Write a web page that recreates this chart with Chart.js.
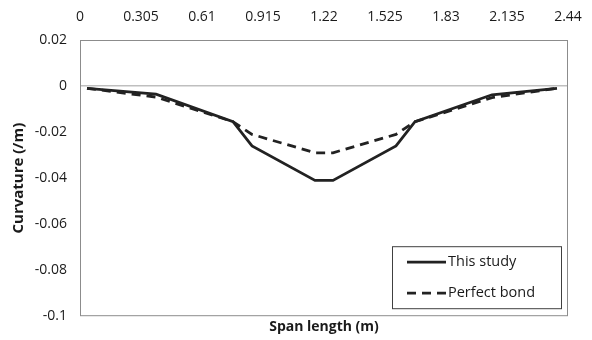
<!DOCTYPE html>
<html>
<head>
<meta charset="utf-8">
<script src="https://cdn.jsdelivr.net/npm/chart.js@4/dist/chart.umd.min.js"></script>
<style>
  html, body { margin: 0; padding: 0; background: #fff; }
  #wrap { width: 592px; height: 340px; }
</style>
</head>
<body>
<div id="wrap"><canvas id="curvatureChart"></canvas></div>
<script>
// span positions (m) and curvature (/m)
const spanX = [0.035, 0.38, 0.765, 0.86, 1.175, 1.265, 1.58, 1.675, 2.06, 2.385];
const thisStudy = [-0.001, -0.0035, -0.0155, -0.026, -0.041, -0.041, -0.026, -0.0155, -0.0038, -0.001];
const perfectBond = [-0.001, -0.0048, -0.0155, -0.021, -0.029, -0.029, -0.021, -0.0155, -0.005, -0.001];

const xTicks = [0, 0.305, 0.61, 0.915, 1.22, 1.525, 1.83, 2.135, 2.44];
const yTicks = [0.02, 0, -0.02, -0.04, -0.06, -0.08, -0.1];

const font = "'Open Sans', 'Liberation Sans', sans-serif";

function toPoints(values) {
  return spanX.map((x, i) => ({ x: x, y: values[i] }));
}

// grey box round the plot area
const plotBorder = {
  id: "plotBorder",
  afterDraw(chart) {
    const { ctx, chartArea: a } = chart;
    ctx.save();
    ctx.strokeStyle = "#8c8c8c";
    ctx.lineWidth = 1;
    ctx.strokeRect(a.left + 0.5, a.top + 0.5, a.right - a.left - 1, a.bottom - a.top - 1);
    ctx.restore();
  },
};

// boxed legend sitting in the lower right of the plot
const boxLegend = {
  id: "boxLegend",
  afterDraw(chart) {
    const { ctx, chartArea: a } = chart;
    const w = 169, h = 62;
    const x0 = a.right - 176, y0 = a.bottom - 70;
    ctx.save();
    ctx.fillStyle = "#fff";
    ctx.fillRect(x0, y0, w, h);
    ctx.strokeStyle = "#404040";
    ctx.lineWidth = 1;
    ctx.strokeRect(x0 + 0.5, y0 + 0.5, w, h);
    ctx.font = "14.5px " + font;
    ctx.textBaseline = "middle";
    chart.data.datasets.forEach((ds, i) => {
      const y = y0 + 16 + i * 31;
      ctx.strokeStyle = ds.borderColor;
      ctx.lineWidth = ds.borderWidth;
      ctx.setLineDash(ds.borderDash || []);
      ctx.beginPath();
      ctx.moveTo(x0 + 15, y);
      ctx.lineTo(x0 + 54, y);
      ctx.stroke();
      ctx.setLineDash([]);
      ctx.fillStyle = "#1a1a1a";
      ctx.fillText(ds.label, x0 + 56, y);
    });
    ctx.restore();
  },
};

new Chart(document.getElementById("curvatureChart"), {
  type: "scatter",
  data: {
    datasets: [
      {
        label: "This study",
        data: toPoints(thisStudy),
        showLine: true,
        borderColor: "#222222",
        borderWidth: 2.8,
        pointRadius: 0,
        tension: 0,
      },
      {
        label: "Perfect bond",
        data: toPoints(perfectBond),
        showLine: true,
        borderColor: "#222222",
        borderWidth: 2.8,
        borderDash: [9, 6],
        pointRadius: 0,
        tension: 0,
      },
    ],
  },
  options: {
    responsive: true,
    maintainAspectRatio: false,
    animation: false,
    layout: { padding: { top: 2, right: 24, bottom: 5, left: 4 } },
    plugins: {
      legend: { display: false },
      tooltip: { enabled: false },
    },
    scales: {
      x: {
        type: "linear",
        position: "top",
        min: 0,
        max: 2.44,
        afterBuildTicks: (axis) => {
          axis.ticks = xTicks.map((v) => ({ value: v }));
        },
        afterFit: (axis) => {
          axis.height = 38;
          axis.paddingLeft = 0;
          axis.paddingRight = 0;
        },
        ticks: {
          color: "#1a1a1a",
          font: { family: font, size: 14 },
          padding: 15,
          maxRotation: 0,
          autoSkip: false,
          callback: (v) => String(v),
        },
        grid: { display: false, drawTicks: false },
        border: { display: false },
      },
      x2: {
        type: "linear",
        position: "bottom",
        min: 0,
        max: 2.44,
        ticks: { display: false },
        grid: { display: false, drawTicks: false },
        border: { display: false },
        title: {
          display: true,
          text: "Span length (m)",
          color: "#1a1a1a",
          font: { family: font, size: 14, weight: "bold" },
          padding: { top: 2, bottom: 0 },
        },
      },
      y: {
        min: -0.1,
        max: 0.02,
        afterBuildTicks: (axis) => {
          axis.ticks = yTicks.map((v) => ({ value: v }));
        },
        afterFit: (axis) => {
          axis.width = 76;
        },
        ticks: {
          color: "#1a1a1a",
          font: { family: font, size: 14 },
          padding: 13,
          callback: (v) => String(v),
        },
        grid: {
          drawTicks: false,
          color: (c) => (c.tick && c.tick.value === 0 ? "#bfbfbf" : "transparent"),
          lineWidth: 1.5,
        },
        border: { display: false },
        title: {
          display: true,
          text: "Curvature (/m)",
          color: "#1a1a1a",
          font: { family: font, size: 15, weight: "bold" },
          padding: { top: 6, bottom: 0 },
        },
      },
    },
  },
  plugins: [plotBorder, boxLegend],
});
</script>
</body>
</html>
